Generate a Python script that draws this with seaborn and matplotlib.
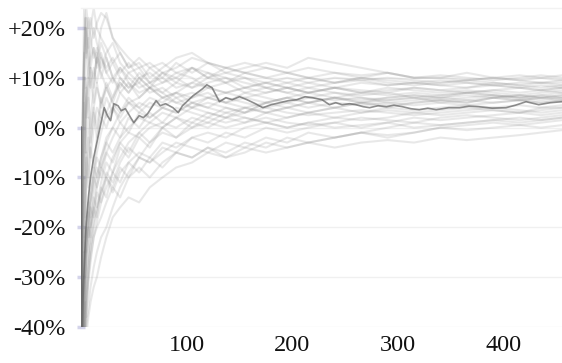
import matplotlib
matplotlib.use('Agg')
import matplotlib.pyplot as plt
import seaborn as sns
import pandas as pd

steps = [0, 1, 2, 3, 4, 5, 7, 9, 12, 15, 19, 24, 30, 37, 45, 55, 65, 77, 90, 105,
         120, 137, 155, 175, 195, 215, 240, 265, 290, 315, 340, 365, 390, 415, 435, 455]

# highlighted (dark) run, read more densely, in percent
hi_steps = [0, 1, 2, 3, 4, 5, 7, 9, 12, 15,
            18, 22, 25, 28, 31, 35, 38, 42, 47, 50,
            55, 59, 63, 71, 75, 80, 87, 92, 96, 106,
            115, 119, 124, 131, 137, 143, 150, 157, 165, 172,
            180, 188, 196, 204, 212, 219, 228, 235, 241, 247,
            254, 260, 267, 273, 281, 289, 296, 304, 312, 320,
            328, 336, 342, 348, 358, 367, 376, 389, 402, 411,
            421, 433, 444, 455]
hi_values = [0, -45, -34, -28, -23, -19, -14, -10, -6, -3,
             0, 4, 2.4, 1.4, 4.8, 4.4, 3.4, 3.8, 2, 1,
             2.4, 2, 2.8, 5.4, 4.4, 4.8, 4, 3, 4.4, 6.4,
             7.8, 8.6, 8, 5.2, 6, 5.6, 6.2, 5.6, 4.8, 4,
             4.6, 5, 5.4, 5.6, 6.2, 6, 5.6, 4.6, 5, 4.6,
             4.8, 4.6, 4.2, 4, 4.4, 4.2, 4.5, 4.2, 3.8, 3.6,
             3.9, 3.6, 3.8, 4, 4, 4.3, 4.2, 3.9, 4, 4.5,
             5.2, 4.6, 5, 5.2]

# background runs, in percent
run_a = [0, -20, 5, 15, 22, 24, 20, 22, 18, 21, 23, 22, 18, 16, 14, 12, 13, 11, 12, 14, 13, 12, 13, 12, 11, 12, 11, 10, 11, 10, 10, 9.5, 10, 10.5, 10, 10.5]
run_b = [0, -60, -40, -30, -20, -12, -5, 2, 8, 14, 20, 23, 18, 15, 12, 13, 10, 12, 14, 15, 13, 11, 12, 13, 12, 14, 13, 12, 11, 10, 10, 11, 10, 9.5, 9, 9]
run_c = [0, -10, 8, 15, 22, 18, 10, 14, 16, 12, 15, 11, 9, 12, 10, 8, 9, 11, 10, 12, 11, 9, 10, 8, 9, 10, 9, 9.5, 8.5, 9, 8.5, 8, 9, 8.5, 8, 8.5]
run_d = [0, -80, -50, -40, -35, -30, -25, -20, -15, -10, -6, -2, 0, 3, 5, 4, 6, 5, 7, 6, 8, 7, 6, 7, 8, 7, 8, 7.5, 7, 8, 7.5, 7, 7.5, 8, 7.5, 7]
run_e = [0, -50, -38, -30, -25, -20, -16, -12, -8, -10, -6, -3, -5, -2, 0, 2, 1, 3, 2, 4, 3, 2, 3, 4, 3, 2.5, 3, 3.5, 3, 2.5, 3, 3.5, 4, 3.5, 3, 3.5]
run_f = [0, -90, -60, -50, -45, -42, -38, -35, -32, -30, -26, -22, -18, -16, -14, -15, -12, -10, -8, -7, -5, -6, -4, -5, -4, -3, -4, -3, -2.5, -3, -2, -2.5, -2, -1.5, -1, -0.5]
run_g = [0, -30, -10, -5, 2, 6, 10, 8, 12, 9, 14, 11, 13, 10, 8, 9, 7, 8, 6, 7, 6, 5, 7, 6, 5, 6, 5.5, 6, 5, 5.5, 6, 5.5, 5, 5.5, 6, 5.5]
run_h = [0, -70, -45, -35, -28, -24, -18, -14, -10, -12, -8, -5, -7, -3, -1, -2, 0, 1, 0, 2, 1, 0, 1, 2, 1, 0.5, 1, 2, 1.5, 1, 2, 2.5, 2, 1.5, 2, 2.5]
run_i = [0, -5, 6, 12, 20, 15, 22, 18, 14, 16, 12, 15, 17, 13, 11, 12, 9, 10, 8, 9, 11, 10, 9, 8, 7, 8, 7, 6.5, 7, 6, 6.5, 7, 6.5, 6, 6.5, 7]
run_j = [0, -40, -25, -30, -20, -25, -15, -18, -10, -6, -8, -3, 0, -2, 2, 0, 3, 1, 4, 3, 2, 4, 3, 5, 4, 5, 6, 5, 5.5, 6, 5, 5.5, 6, 5.5, 6, 6.5]
run_k = [0, -100, -70, -55, -45, -40, -36, -32, -28, -25, -22, -20, -16, -12, -9, -6, -7, -4, -5, -2, -3, -1, -2, 0, -1, 0, 1, 0, 1, 2, 1.5, 2, 2.5, 3, 2.5, 3]
run_l = [0, -25, -5, 5, 10, 2, 6, 0, 4, 8, 5, 9, 6, 10, 8, 11, 9, 7, 9, 8, 10, 9, 11, 10, 9, 8, 9, 10, 9, 8.5, 9, 9.5, 9, 8.5, 9, 9.5]
run_m = [0, -30, -40, -25, -30, -20, -22, -15, -12, -8, -10, -5, -2, 1, -1, 3, 2, 4, 3, 5, 4, 6, 5, 4, 5, 4, 5, 4.5, 5, 4.5, 5, 4.5, 5, 5.5, 5, 5.5]
run_n = [0, -35, -10, 12, 18, 22, 16, 20, 24, 20, 18, 16, 13, 15, 12, 14, 12, 13, 11, 12, 10, 12, 11, 10, 11, 10, 11, 10.5, 11, 10, 10.5, 10, 9.5, 10, 10.5, 10]
run_o = [0, -60, -50, -42, -35, -38, -30, -26, -22, -20, -18, -15, -12, -14, -10, -8, -10, -7, -5, -6, -4, -5, -3, -4, -2, -3, -2, -1, -2, -1, 0, -0.5, 0, 0.5, 0, 0.5]
run_p = [0, -15, 5, 10, 0, -5, 2, -3, 4, 0, 6, 2, 4, 1, 3, 5, 4, 6, 5, 4, 6, 5, 4, 5, 6, 7, 6, 7, 6.5, 7, 6.5, 7, 7.5, 7, 7.5, 8]
run_q = [0, -45, -35, -40, -30, -26, -20, -22, -16, -18, -12, -14, -9, -11, -7, -5, -6, -3, -4, -2, -1, -2, 0, 1, 0, 1, 2, 1.5, 2, 3, 2.5, 3, 3.5, 3, 4, 4.5]
run_r = [0, -20, -10, -25, -15, -5, -12, -3, 3, -2, 5, 8, 5, 9, 7, 10, 8, 9, 11, 10, 8, 9, 7, 8, 7, 6, 7, 6, 5.5, 6, 5.5, 6, 6.5, 6, 5.5, 6]
run_s = [0, -20, -10, 5, -5, 8, 2, 12, 8, 15, 10, 14, 10, 8, 11, 9, 12, 10, 13, 11, 13, 12, 11, 12, 11, 10, 9, 10, 9.5, 9, 8.5, 9, 8.5, 8, 8.5, 8]
run_t = [0, -80, -55, -45, -40, -34, -28, -24, -19, -16, -13, -10, -13, -9, -7, -9, -6, -8, -5, -6, -4, -6, -5, -3, -4, -3, -2, -1, -1.5, -1, 0, 0.5, 1, 0.5, 1, 1.5]
run_u = [0, -35, -20, -10, -18, -8, -2, -6, 0, 4, 2, 6, 3, 7, 5, 6, 8, 6, 7, 5, 6, 7, 8, 9, 8, 7, 8, 7, 8, 7.5, 7, 7.5, 7, 6.5, 7, 7.5]
run_v = [0, -55, -40, -33, -27, -23, -17, -20, -14, -16, -11, -7, -9, -4, -6, -2, -4, 0, -2, 1, 0, 2, 1, 3, 2, 3, 4, 3, 4, 3.5, 4, 4.5, 4, 4.5, 4, 4]
run_w = [0, -10, 10, 25, 20, 14, 18, 12, 16, 13, 17, 14, 10, 12, 9, 7, 8, 6, 7, 9, 8, 7, 8, 9, 8, 9, 8, 9, 8.5, 9, 9.5, 9, 8.5, 9, 9, 8.5]
run_x = [0, -65, -50, -45, -38, -30, -26, -20, -17, -13, -15, -10, -12, -8, -10, -6, -7, -5, -3, -4, -5, -3, -4, -2, -3, -1, -2, -1, 0, 1, 0.5, 1, 1.5, 2, 1.5, 2]
run_y = [0, -15, 5, 15, 8, 20, 14, 10, 5, 9, 4, 8, 5, 3, 6, 4, 2, 4, 3, 5, 4, 3, 4, 3, 4, 5, 4, 5, 4.5, 5, 5.5, 5, 6, 5.5, 5, 5.5]
run_z = [0, -90, -65, -52, -43, -37, -31, -27, -22, -19, -15, -12, -9, -6, -3, -1, -3, 0, 2, 1, 3, 2, 4, 3, 4, 3, 4, 5, 4, 5, 5.5, 5, 6, 6.5, 6, 6.5]
run_aa = [0, -50, -30, -15, -5, 3, 8, 12, 10, 14, 11, 8, 10, 7, 9, 6, 8, 7, 5, 6, 7, 5, 6, 5, 6, 5, 6, 5.5, 6, 6.5, 6, 6.5, 6, 6.5, 6, 6]
run_bb = [0, -75, -52, -40, -32, -26, -22, -16, -18, -12, -8, -10, -6, -3, -5, -1, 1, 0, 2, 0, 1, 3, 2, 1, 2, 3, 2, 3, 3.5, 3, 3.5, 4, 3.5, 3, 3.5, 4]
run_cc = [0, -40, -20, -8, 0, 6, 12, 16, 20, 17, 14, 12, 14, 11, 13, 10, 11, 9, 10, 8, 9, 10, 8, 7, 8, 7, 8, 7, 7.5, 8, 7.5, 8, 8.5, 8, 7.5, 8]
run_dd = [0, -85, -60, -48, -40, -35, -29, -24, -20, -17, -13, -9, -11, -7, -4, -6, -3, -1, -2, 0, 2, 1, 2, 1, 0, 1, 0, 0.5, 1, 0, 0.5, 1, 1.5, 1, 1.5, 2]
run_ee = [0, -30, -15, -22, -12, -6, -10, -4, -8, -2, 2, 0, 4, 2, 5, 3, 5, 4, 6, 4, 5, 4, 3, 5, 6, 5, 6, 5, 6, 6.5, 6, 7, 6.5, 6, 6.5, 6]
run_ff = [0, -60, -45, -35, -30, -24, -19, -14, -9, -5, -1, 3, 6, 9, 7, 10, 8, 11, 9, 12, 10, 11, 10, 9, 10, 9, 10, 9.5, 10, 9.5, 9, 9.5, 10, 9.5, 10, 9.5]

y_ticks = [-40, -30, -20, -10, 0, 10, 20]
y_tick_labels = ['-40%', '-30%', '-20%', '-10%', '0%', '+10%', '+20%']
x_ticks = [100, 200, 300, 400]
x_tick_labels = ['100', '200', '300', '400']

runs = {'a': run_a, 'b': run_b, 'c': run_c, 'd': run_d, 'e': run_e, 'f': run_f,
        'g': run_g, 'h': run_h, 'i': run_i, 'j': run_j, 'k': run_k, 'l': run_l,
        'm': run_m, 'n': run_n, 'o': run_o, 'p': run_p, 'q': run_q, 'r': run_r,
        's': run_s, 't': run_t, 'u': run_u, 'v': run_v, 'w': run_w, 'x': run_x,
        'y': run_y, 'z': run_z, 'aa': run_aa, 'bb': run_bb, 'cc': run_cc,
        'dd': run_dd, 'ee': run_ee, 'ff': run_ff}

rows = []
for name, vals in runs.items():
    for s, v in zip(steps, vals):
        rows.append({'step': s, 'value': v, 'run': name})
df = pd.DataFrame(rows)
df_hi = pd.DataFrame({'step': hi_steps, 'value': hi_values})

sns.set_theme(style='white')
plt.rcParams['font.family'] = ['Liberation Serif', 'DejaVu Serif']

fig = plt.figure(figsize=(5.62, 3.63), dpi=100)
ax = fig.add_axes([81 / 562, 1 - 327 / 363, 1 - 81 / 562, (327 - 8) / 363])

sns.lineplot(data=df, x='step', y='value', units='run', estimator=None,
             color='#8a8a8a', alpha=0.19, lw=1.5, ax=ax, legend=False)
sns.lineplot(data=df_hi, x='step', y='value', color='#606060', alpha=0.7,
             lw=1.2, ax=ax, legend=False)

ax.set_xlim(0, 455)
ax.set_ylim(-40, 24)
ax.set_yticks(y_ticks)
ax.set_yticklabels(y_tick_labels)
ax.set_xticks(x_ticks)
ax.set_xticklabels(x_tick_labels)
ax.set_xlabel('')
ax.set_ylabel('')

for side in ['left', 'right', 'bottom']:
    ax.spines[side].set_visible(False)
ax.spines['top'].set_color('#f2f2f2')
ax.spines['top'].set_linewidth(1)

ax.grid(axis='y', color='#f0f0f0', lw=1)
ax.set_axisbelow(True)

ax.tick_params(axis='y', length=6, width=2.5, color='#d4d4ea', direction='inout',
               pad=8, labelsize=17.5, labelcolor='#111111', left=True)
ax.tick_params(axis='x', length=0, pad=6, labelsize=17.5, labelcolor='#111111')

fig.savefig('out.png', dpi=100, facecolor='white')
